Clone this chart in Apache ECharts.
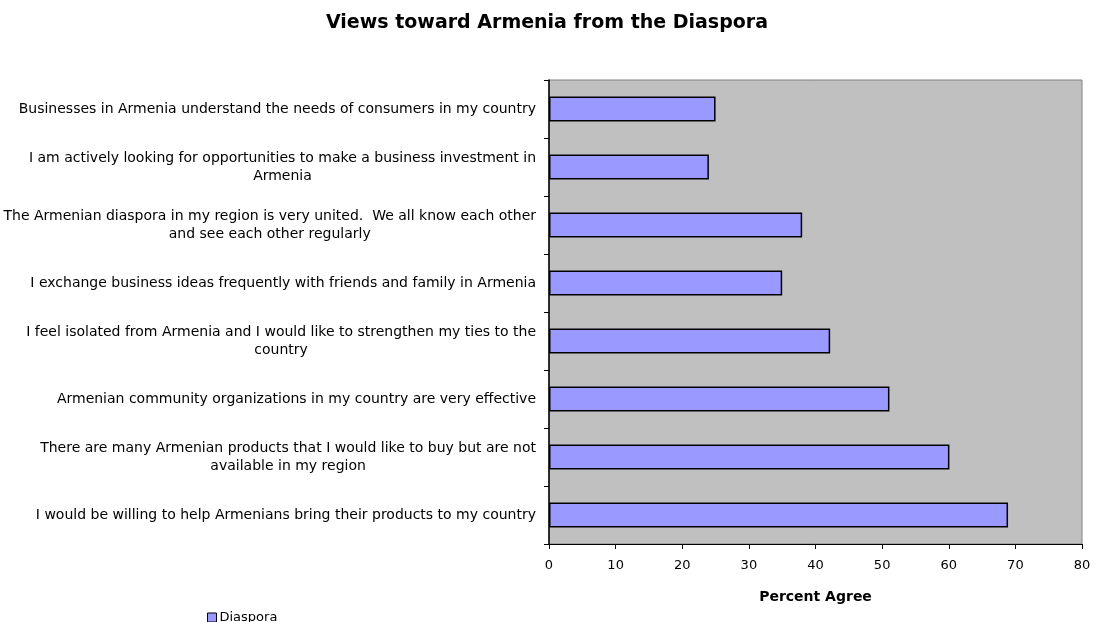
<!DOCTYPE html>
<html>
<head>
<meta charset="utf-8">
<script src="https://cdn.jsdelivr.net/npm/echarts@6/dist/echarts.min.js"></script>
<style>html,body{margin:0;padding:0;background:#fff;}#c{width:1094px;height:622px;}</style>
</head>
<body>
<div id="c"></div>
<script>
var categories = [
  "Businesses in Armenia understand the needs of consumers in my country",
  "I am actively looking for opportunities to make a business investment in\nArmenia",
  "The Armenian diaspora in my region is very united.  We all know each other\nand see each other regularly",
  "I exchange business ideas frequently with friends and family in Armenia",
  "I feel isolated from Armenia and I would like to strengthen my ties to the\ncountry",
  "Armenian community organizations in my country are very effective",
  "There are many Armenian products that I would like to buy but are not\navailable in my region",
  "I would be willing to help Armenians bring their products to my country"
];
var diaspora = [25, 24, 38, 35, 42.2, 51.1, 60.1, 68.9];
var xTicks = [0, 10, 20, 30, 40, 50, 60, 70, 80];
var seriesName = "Diaspora";

var chart = echarts.init(document.getElementById('c'), null, {renderer: 'canvas'});
var FONT = "'DejaVu Sans', sans-serif";
chart.setOption({
  animation: false,
  backgroundColor: '#ffffff',
  title: {
    text: 'Views toward Armenia from the Diaspora',
    left: 'center', top: 9,
    textStyle: {fontFamily: FONT, fontSize: 19, fontWeight: 'bold', color: '#000'}
  },
  legend: {
    data: [seriesName],
    left: 202, top: 606,
    icon: 'rect', itemWidth: 9, itemHeight: 9, itemGap: 4,
    textStyle: {fontFamily: FONT, fontSize: 13, color: '#000', padding: [0,0,0,-2]},
    itemStyle: {borderColor: '#000', borderWidth: 1}
  },
  grid: {
    left: 549, right: 12, top: 80, bottom: 78,
    show: true, backgroundColor: '#C0C0C0', borderColor: '#808080', borderWidth: 1,
    containLabel: false
  },
  xAxis: {
    type: 'value', min: xTicks[0], max: xTicks[xTicks.length - 1], interval: 10,
    name: 'Percent Agree', nameLocation: 'middle', nameGap: 46,
    nameTextStyle: {fontFamily: FONT, fontSize: 14, fontWeight: 'bold', color: '#000'},
    axisLine: {show: true, lineStyle: {color: '#000', width: 1}},
    axisTick: {show: true, length: 5, lineStyle: {color: '#000'}},
    axisLabel: {fontFamily: FONT, fontSize: 13, color: '#000', margin: 15},
    splitLine: {show: false}
  },
  yAxis: {
    type: 'category', data: categories, inverse: true,
    axisLine: {show: true, lineStyle: {color: '#000', width: 1.5}},
    axisTick: {show: true, length: 5, alignWithLabel: false, lineStyle: {color: '#000'}},
    axisLabel: {
      margin: 13, color: '#000', fontFamily: FONT, fontSize: 14, lineHeight: 18,
      formatter: function (v) {
        return v.split('\n').map(function (l) { return '{c|' + l + '}'; }).join('\n');
      },
      rich: {c: {align: 'center', fontFamily: FONT, fontSize: 14, lineHeight: 18, color: '#000'}}
    },
    splitLine: {show: false}
  },
  series: [{
    name: seriesName, type: 'bar', data: diaspora, barWidth: 25,
    itemStyle: {color: '#9999FF', borderColor: '#000', borderWidth: 1.5}
  }]
});
</script>
</body>
</html>
